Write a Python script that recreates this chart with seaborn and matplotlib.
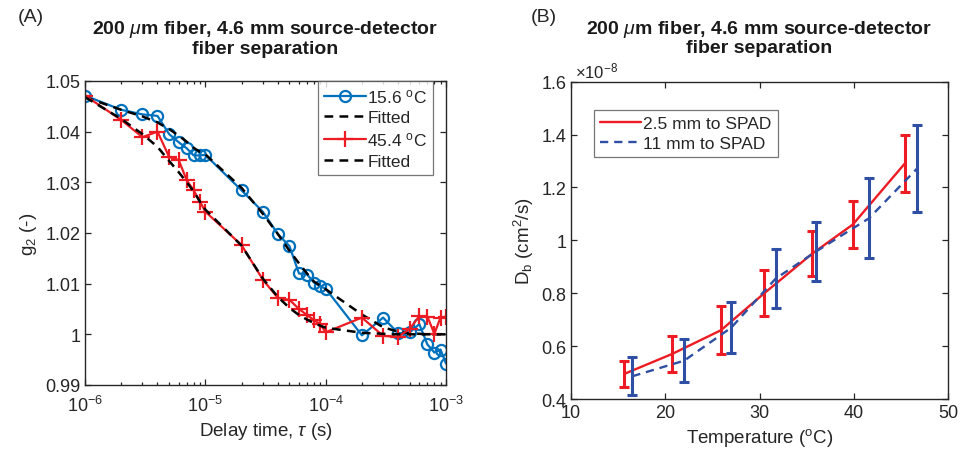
import numpy as np
import seaborn as sns
import matplotlib.pyplot as plt
from matplotlib.ticker import FuncFormatter, LogLocator

sns.set_style("ticks")
plt.rcParams['font.family'] = ['Liberation Sans', 'DejaVu Sans']
plt.rcParams['mathtext.fontset'] = 'custom'
plt.rcParams['mathtext.rm'] = 'Liberation Sans'
plt.rcParams['mathtext.it'] = 'Liberation Sans:italic'
plt.rcParams['text.color'] = '#262626'
plt.rcParams['xtick.color'] = '#262626'
plt.rcParams['ytick.color'] = '#262626'
plt.rcParams['axes.labelcolor'] = '#262626'

# (A) g2 curves, delay times in seconds
tau = [1e-6, 2e-6, 3e-6, 4e-6, 5e-6, 6e-6, 7e-6, 8e-6, 9e-6,
       1e-5, 2e-5, 3e-5, 4e-5, 5e-5, 6e-5, 7e-5, 8e-5, 9e-5,
       1e-4, 2e-4, 3e-4, 4e-4, 5e-4, 6e-4, 7e-4, 8e-4, 9e-4, 1e-3]
g2_cold = [1.0471, 1.0443, 1.0434, 1.0431, 1.0395, 1.0379, 1.0367, 1.0353, 1.0353,
           1.0354, 1.0284, 1.0242, 1.0198, 1.0174, 1.0120, 1.0118, 1.0102, 1.0095,
           1.0090, 0.9998, 1.0033, 1.0002, 1.0004, 1.0020, 0.9980, 0.9964, 0.9970, 0.9942]
fit_cold = [1.0468, 1.0443, 1.0430, 1.0418, 1.0405, 1.0392, 1.0380, 1.0368, 1.0360,
            1.0355, 1.0289, 1.0238, 1.0198, 1.0165, 1.0140, 1.0120, 1.0104, 1.0096,
            1.0089, 1.0039, 1.0014, 1.0005, 1.0002, 1.0001, 1.0000, 1.0000, 1.0000, 1.0000]
g2_warm = [1.0471, 1.0423, 1.0389, 1.0400, 1.0350, 1.0344, 1.0304, 1.0284, 1.0262,
           1.0242, 1.0176, 1.0108, 1.0072, 1.0068, 1.0050, 1.0038, 1.0028, 1.0020,
           1.0004, 1.0033, 0.9997, 0.9995, 1.0011, 1.0036, 1.0035, 1.0001, 1.0033, 1.0035]
fit_warm = [1.0468, 1.0425, 1.0395, 1.0370, 1.0342, 1.0320, 1.0300, 1.0282, 1.0262,
            1.0246, 1.0175, 1.0110, 1.0074, 1.0052, 1.0038, 1.0029, 1.0022, 1.0017,
            1.0013, 1.0003, 1.0001, 1.0000, 1.0000, 1.0000, 1.0000, 1.0000, 1.0000, 1.0000]

# (B) blood flow index vs temperature (Db in units of 1e-8 cm^2/s)
temp_2p5 = [15.65, 20.7, 25.9, 30.5, 35.6, 39.9, 45.4]
db_2p5 = [0.495, 0.570, 0.660, 0.800, 0.950, 1.060, 1.290]
err_2p5 = [0.050, 0.067, 0.090, 0.087, 0.086, 0.088, 0.107]
temp_11 = [16.5, 22.0, 27.0, 31.7, 36.0, 41.6, 46.7]
db_11 = [0.486, 0.545, 0.670, 0.855, 0.958, 1.083, 1.271]
err_11 = [0.072, 0.082, 0.097, 0.112, 0.110, 0.151, 0.165]

blue = '#0072BD'
red = '#ED1C24'
navy = '#2E4FA3'
title = '200 $\\mu$m fiber, 4.6 mm source-detector\nfiber separation'


def style_axes(ax):
    ax.tick_params(which='both', direction='in', top=True, right=True,
                   labelsize=13, width=0.9)
    ax.tick_params(which='major', length=4)
    ax.tick_params(which='minor', length=2.5)
    for s in ax.spines.values():
        s.set_linewidth(1.0)
        s.set_color('#262626')


fig = plt.figure(figsize=(9.73, 4.6), dpi=100)
ax1 = fig.add_axes([0.0874, 0.1609, 0.371, 0.661])
ax2 = fig.add_axes([0.5869, 0.1304, 0.3875, 0.690])

# ---- panel A
sns.lineplot(x=tau, y=g2_cold, ax=ax1, color=blue, lw=1.6, marker='o',
             markersize=8, markerfacecolor='none', markeredgecolor=blue,
             markeredgewidth=1.6, label='15.6 $^{\\rm o}$C')
sns.lineplot(x=tau, y=fit_cold, ax=ax1, color='black', lw=1.8,
             label='Fitted')
ax1.lines[-1].set_dashes([3.5, 2.5])
sns.lineplot(x=tau, y=g2_warm, ax=ax1, color=red, lw=1.6, marker='+',
             markersize=12, markeredgewidth=1.6, markeredgecolor=red,
             label='45.4 $^{\\rm o}$C')
sns.lineplot(x=tau, y=fit_warm, ax=ax1, color='black', lw=1.8,
             label='Fitted')
ax1.lines[-1].set_dashes([3.5, 2.5])
ax1.set_xscale('log')
ax1.set_xlim(1e-6, 1e-3)
ax1.set_ylim(0.99, 1.05)
ax1.set_yticks([0.99, 1.0, 1.01, 1.02, 1.03, 1.04, 1.05])
ax1.yaxis.set_major_formatter(FuncFormatter(lambda v, _: f'{v:g}'))
ax1.xaxis.set_minor_locator(LogLocator(base=10, subs=np.arange(2, 10)))
style_axes(ax1)
ax1.tick_params(axis='x', pad=7)
ax1.set_xlabel('Delay time, $\\tau$ (s)', fontsize=13.5)
ax1.set_ylabel('g$_2$ (-)', fontsize=13.5)
ax1.set_title(title, fontsize=14, fontweight='bold', color='#1a1a1a', pad=20,
              linespacing=1.05)
leg1 = ax1.legend(loc='upper right', bbox_to_anchor=(0.965, 1.0),
                  fontsize=12.5, frameon=True, fancybox=False,
                  edgecolor='#555555', handlelength=2.4, handletextpad=0.1,
                  borderaxespad=0.0, labelspacing=0.3, borderpad=0.35)
leg1.get_frame().set_linewidth(0.9)

# ---- panel B
sns.lineplot(x=temp_2p5, y=db_2p5, ax=ax2, color=red, lw=1.7,
             label='2.5 mm to SPAD')
ax2.errorbar(temp_2p5, db_2p5, yerr=err_2p5, fmt='none', ecolor=red,
             elinewidth=2.2, capsize=3.5, capthick=2.2)
sns.lineplot(x=temp_11, y=db_11, ax=ax2, color=navy, lw=1.7,
             label='11 mm to SPAD')
ax2.lines[-1].set_dashes([3.5, 2.5])
ax2.errorbar(temp_11, db_11, yerr=err_11, fmt='none', ecolor=navy,
             elinewidth=2.2, capsize=3.5, capthick=2.2)
ax2.set_xlim(10, 50)
ax2.set_ylim(0.4, 1.6)
ax2.set_xticks([10, 20, 30, 40, 50])
ax2.set_yticks([0.4, 0.6, 0.8, 1.0, 1.2, 1.4, 1.6])
ax2.yaxis.set_major_formatter(FuncFormatter(lambda v, _: f'{v:g}'))
style_axes(ax2)
ax2.set_xlabel('Temperature ($^{\\rm o}$C)', fontsize=13.5)
ax2.set_ylabel('D$_{\\rm b}$ (cm$^2$/s)', fontsize=13.5)
ax2.set_title(title, fontsize=14, fontweight='bold', color='#1a1a1a', pad=21,
              linespacing=1.05)
ax2.text(0.01, 1.005, '$\\times$10$^{-8}$', transform=ax2.transAxes,
         fontsize=12, ha='left', va='bottom')
leg2 = ax2.legend(loc='upper left', bbox_to_anchor=(0.06, 0.91),
                  fontsize=12.5, frameon=True, fancybox=False,
                  edgecolor='#555555', handlelength=2.4, handletextpad=0.1,
                  borderaxespad=0.0, labelspacing=0.25, borderpad=0.35)
leg2.get_frame().set_linewidth(0.9)

fig.text(0.018, 0.963, '(A)', fontsize=14, ha='left', va='center')
fig.text(0.545, 0.963, '(B)', fontsize=14, ha='left', va='center')

fig.savefig('out.png', dpi=100)
